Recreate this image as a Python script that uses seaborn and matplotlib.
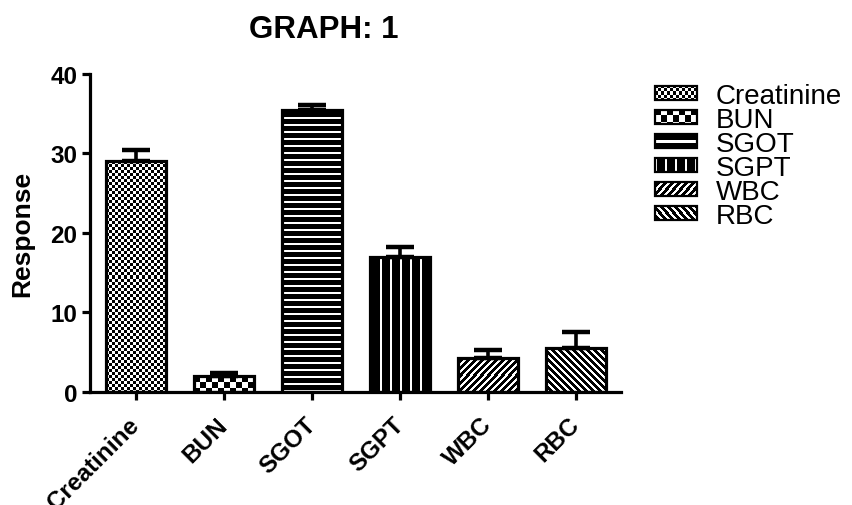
import numpy as np
import pandas as pd
import matplotlib
matplotlib.use('Agg')
import matplotlib.pyplot as plt
import seaborn as sns
from matplotlib.patches import Patch, Rectangle
from matplotlib.legend_handler import HandlerBase
from matplotlib.image import BboxImage
from matplotlib.transforms import Bbox, TransformedBbox
from matplotlib.colors import Normalize

# values
categories = ['Creatinine', 'BUN', 'SGOT', 'SGPT', 'WBC', 'RBC']
response = [29.0, 2.0, 35.5, 17.0, 4.2, 5.5]
sem = [1.4, 0.3, 0.6, 1.25, 1.0, 2.05]
fills = ['fine_check', 'big_check', 'hlines', 'vlines', 'diag_up', 'diag_down']
yticks = [0, 10, 20, 30, 40]

sns.set_style('ticks')
plt.rcParams['font.family'] = ['Liberation Sans', 'DejaVu Sans']
plt.rcParams.update({'text.color': 'black', 'axes.labelcolor': 'black',
                     'xtick.color': 'black', 'ytick.color': 'black',
                     'axes.edgecolor': 'black'})

DPI = 100


def make_pattern(kind, h, w):
    # 0 = black, 1 = white, one array cell per screen pixel
    i, j = np.mgrid[0:max(h, 1), 0:max(w, 1)]
    if kind == 'fine_check':
        a = (i // 3 + j // 3) % 2
    elif kind == 'big_check':
        a = (i // 6 + j // 6) % 2
    elif kind == 'hlines':
        a = (i % 7) < 2
    elif kind == 'vlines':
        a = (j % 10) < 2
    elif kind == 'diag_up':
        a = ((i + j) % 7) < 3
    else:
        a = ((j - i) % 7) < 3
    return a.astype(float)


class SwatchHandler(HandlerBase):
    def create_artists(self, legend, orig_handle, xdescent, ydescent,
                       width, height, fontsize, trans):
        kind = orig_handle.get_gid()
        box = Bbox.from_bounds(-xdescent, -ydescent, width, height)
        img = BboxImage(TransformedBbox(box, trans), cmap='gray',
                        norm=Normalize(0, 1), interpolation='nearest')
        s = DPI / 72
        img.set_data(make_pattern(kind, int(round(height * s)), int(round(width * s))))
        edge = Rectangle((-xdescent, -ydescent), width, height, fill=False,
                         edgecolor='black', linewidth=1.6, transform=trans)
        return [img, edge]


fig = plt.figure(figsize=(8.52, 5.06), dpi=DPI)
ax = fig.add_axes([90 / 852, 113.3 / 506, 531 / 852, 317.7 / 506])

df = pd.DataFrame({'test': categories, 'response': response})
sns.barplot(data=df, x='test', y='response', color='white', saturation=1,
            edgecolor='black', linewidth=2.3, width=0.68, errorbar=None, ax=ax)

xlim = (-0.523, 5.511)
ax.set_xlim(*xlim)
ax.set_ylim(0, 40)

# fill each bar with its pattern
for p, kind in zip(ax.patches, fills):
    x0, y0, w, h = p.get_x(), p.get_y(), p.get_width(), p.get_height()
    (px0, py0), (px1, py1) = ax.transData.transform([(x0, y0), (x0 + w, y0 + h)])
    arr = make_pattern(kind, int(round(py1 - py0)), int(round(px1 - px0)))
    ax.imshow(arr, extent=(x0, x0 + w, y0, y0 + h), cmap='gray', vmin=0, vmax=1,
              interpolation='nearest', aspect='auto', zorder=1.5)
    p.set_facecolor('none')
    p.set_zorder(2)

xs = [p.get_x() + p.get_width() / 2 for p in ax.patches]
ax.errorbar(xs, response, yerr=[np.zeros(len(sem)), sem], fmt='none',
            ecolor='black', elinewidth=2.6, capsize=10, capthick=3.2, zorder=3)

ax.set_xlim(*xlim)
ax.set_ylim(0, 40)
ax.set_yticks(yticks)
ax.set_xticks(range(len(categories)))
ax.set_xticklabels(categories)

for side in ['top', 'right']:
    ax.spines[side].set_visible(False)
for side in ['left', 'bottom']:
    ax.spines[side].set_linewidth(2.3)

ax.tick_params(width=2.3, length=6, direction='out')
ax.tick_params(axis='y', labelsize=17.5, pad=3)
ax.tick_params(axis='x', labelsize=17.5, pad=15)
for lab in ax.get_yticklabels():
    lab.set_fontweight('bold')
for lab in ax.get_xticklabels():
    lab.set_fontweight('bold')
    lab.set_rotation(45)
    lab.set_ha('right')
    lab.set_va('center')
    lab.set_rotation_mode('anchor')

ax.set_xlabel('')
ax.set_ylabel('Response', fontsize=19, fontweight='bold', labelpad=12)

fig.text(324 / 852, 1 - 38 / 506, 'GRAPH: 1', ha='center', va='baseline',
         fontsize=22.5, fontweight='bold')

handles = [Patch(gid=k, label=c) for k, c in zip(fills, categories)]
ax.legend(handles=handles, handler_map={Patch: SwatchHandler()},
          loc='center left', bbox_to_anchor=(655 / 852, 1 - 157 / 506),
          bbox_transform=fig.transFigure, frameon=False, fontsize=20,
          handlelength=1.5, handleheight=0.42, handletextpad=0.7,
          labelspacing=-0.07, borderpad=0, borderaxespad=0)

fig.savefig('out.png', dpi=DPI)
